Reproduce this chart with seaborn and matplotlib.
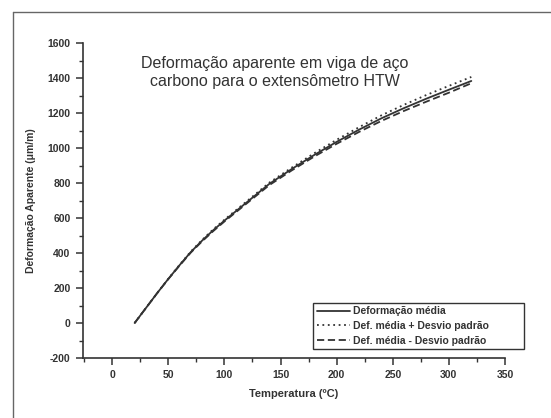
"""
Deformação aparente em viga de aço carbono (extensômetro HTW).
Recria o gráfico digitalizado com seaborn.
"""

import matplotlib
import pandas as pd
import seaborn as sns
from matplotlib.lines import Line2D
from matplotlib.ticker import MultipleLocator

matplotlib.use("Agg")
import matplotlib.pyplot as plt


# valores
temperatura = [20, 30, 40, 50, 60, 70, 80, 90, 100, 120, 140, 160, 180, 200, 220, 240, 260, 280, 300, 320]
def_media = [0, 85, 170, 252, 330, 405, 470, 530, 585, 690, 795, 880, 960, 1035, 1105, 1170, 1228, 1282, 1333, 1383]
def_mais_desvio = [0, 85, 170, 253, 332, 408, 474, 535, 590, 696, 802, 888, 970, 1047, 1119, 1187, 1247, 1303, 1355, 1406]
def_menos_desvio = [0, 85, 170, 251, 328, 402, 466, 525, 580, 684, 788, 872, 951, 1024, 1092, 1155, 1212, 1265, 1316, 1370]

series_labels = ["Deformação média", "Def. média + Desvio padrão", "Def. média - Desvio padrão"]

titulo = "Deformação aparente em viga de aço\ncarbono para o extensômetro HTW"
x_label = "Temperatura (ºC)"
y_label = "Deformação Aparente (μm/m)"
x_ticks = [0, 50, 100, 150, 200, 250, 300, 350]
y_ticks = [-200, 0, 200, 400, 600, 800, 1000, 1200, 1400, 1600]

INK = "#333333"


def main():
    df = pd.concat(
        [
            pd.DataFrame({"T": temperatura, "D": vals, "serie": lab})
            for vals, lab in zip([def_media, def_mais_desvio, def_menos_desvio], series_labels)
        ],
        ignore_index=True,
    )

    sns.set_style("ticks")
    plt.rcParams["font.family"] = ["Liberation Sans", "DejaVu Sans"]
    plt.rcParams["axes.unicode_minus"] = False

    fig = plt.figure(figsize=(5.51, 4.18), dpi=100)
    ax = fig.add_axes([83 / 551, 1 - 358 / 418, 422 / 551, 315 / 418])

    sns.lineplot(
        data=df,
        x="T",
        y="D",
        hue="serie",
        style="serie",
        palette=[INK, INK, INK],
        dashes=[(None, None), (1, 2), (4, 2)],
        linewidth=1.3,
        legend=True,
        ax=ax,
    )

    ax.set_xlim(-26, 350)
    ax.set_ylim(-200, 1600)
    ax.set_xticks(x_ticks)
    ax.set_yticks(y_ticks)
    ax.xaxis.set_minor_locator(MultipleLocator(25))
    ax.yaxis.set_minor_locator(MultipleLocator(100))
    ax.tick_params(which="major", direction="out", length=5, width=1.1, color=INK,
                   labelsize=7.5, labelcolor=INK, pad=4)
    ax.tick_params(which="minor", direction="out", length=3, width=1.0, color=INK)
    for lbl in ax.get_xticklabels() + ax.get_yticklabels():
        lbl.set_fontweight("bold")

    sns.despine(ax=ax)
    for side in ["left", "bottom"]:
        ax.spines[side].set_linewidth(1.2)
        ax.spines[side].set_color(INK)

    ax.set_xlabel(x_label, fontsize=8, fontweight="bold", color=INK, labelpad=6)
    ax.set_ylabel(y_label, fontsize=7.5, fontweight="bold", color=INK, labelpad=8)

    ax.text(0.455, 0.96, titulo, transform=ax.transAxes, ha="center", va="top",
            fontsize=11.5, color=INK, linespacing=1.25)

    handles, labels = ax.get_legend_handles_labels()
    leg = ax.legend(
        handles, labels,
        loc="lower left",
        bbox_to_anchor=(0.545, 0.028, 0.5, 0.18),
        mode="expand",
        borderaxespad=0,
        frameon=True,
        fancybox=False,
        framealpha=1,
        edgecolor=INK,
        prop={"size": 7.5, "weight": "bold"},
        handlelength=3.2,
        handletextpad=0.3,
        labelspacing=0.45,
        borderpad=0.35,
    )
    leg.get_frame().set_linewidth(1.0)
    for t in leg.get_texts():
        t.set_color(INK)

    # moldura da digitalização (só topo e lado esquerdo aparecem)
    fig.add_artist(Line2D([13 / 551, 1], [1 - 12 / 418] * 2, transform=fig.transFigure,
                          color="#666666", lw=1.0))
    fig.add_artist(Line2D([13 / 551] * 2, [0, 1 - 12 / 418], transform=fig.transFigure,
                          color="#666666", lw=1.0))

    fig.savefig("out.png", dpi=100)
    plt.close(fig)


if __name__ == "__main__":
    main()
